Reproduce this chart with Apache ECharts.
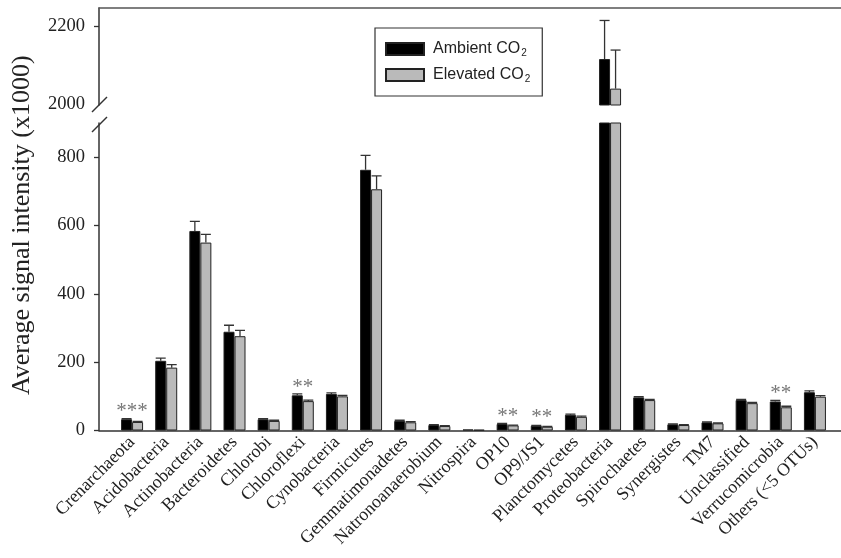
<!DOCTYPE html>
<html>
<head>
<meta charset="utf-8">
<script src="https://cdn.jsdelivr.net/npm/echarts@6/dist/echarts.min.js"></script>
<style>
  html, body { margin: 0; padding: 0; background: #fff; }
  #chart { width: 841px; height: 558px; }
</style>
</head>
<body>
<div id="chart"></div>
<script>
const categories = ['Crenarchaeota', 'Acidobacteria', 'Actinobacteria', 'Bacteroidetes', 'Chlorobi',
  'Chloroflexi', 'Cynobacteria', 'Firmicutes', 'Gemmatimonadetes', 'Natronoanaerobium', 'Nitrospira',
  'OP10', 'OP9/JS1', 'Planctomycetes', 'Proteobacteria', 'Spirochaetes', 'Synergistes', 'TM7',
  'Unclassified', 'Verrucomicrobia', 'Others (<5 OTUs)'];
const ambient  = [33, 204, 584, 289, 33, 103, 107, 763, 28, 16, 3, 19, 14, 46, 2115, 97, 18, 24, 89, 85, 112];
const elevated = [25, 184, 550, 276, 28, 86, 100, 706, 24, 13, 2, 15, 11, 40, 2039, 89, 16, 21, 80, 68, 99];
const ambientErr  = [2, 8, 28, 19, 2, 4, 3, 42, 2, 1, 0, 2, 1, 2, 99, 2, 1, 1, 2, 3, 4];
const elevatedErr = [2, 9, 24, 17, 2, 3, 3, 39, 2, 1, 0, 1, 1, 2, 99, 2, 1, 1, 2, 3, 3];
const signif = ['***', '', '', '', '', '**', '', '', '', '', '', '**', '**', '', '', '', '', '', '', '**', ''];
const lowerTicks = [0, 200, 400, 600, 800];
const upperTicks = [2000, 2200];

const serif = '"Liberation Serif", "Times New Roman", serif';
const sans = '"Liberation Sans", Arial, sans-serif';
const BAR_W = 11;

const chart = echarts.init(document.getElementById('chart'));

function errSeries(name, vals, errs, shift, gi) {
  return {
    name: name,
    type: 'custom',
    xAxisIndex: gi,
    yAxisIndex: gi,
    clip: true,
    silent: true,
    z: 3,
    data: vals.map((v, i) => [i, v, errs[i]]),
    renderItem: function (params, api) {
      const i = api.value(0), v = api.value(1), e = api.value(2);
      if (!e) return;
      const base = api.coord([i, v]);
      const top = api.coord([i, v + e]);
      const x = base[0] + shift;
      return {
        type: 'group',
        children: [
          { type: 'line', shape: { x1: x, y1: base[1], x2: x, y2: top[1] },
            style: { stroke: '#333', lineWidth: 1.3 } },
          { type: 'line', shape: { x1: x - 5, y1: top[1], x2: x + 5, y2: top[1] },
            style: { stroke: '#333', lineWidth: 1.3 } }
        ]
      };
    }
  };
}

function barSeries(name, vals, color, gi) {
  return {
    name: name,
    type: 'bar',
    xAxisIndex: gi,
    yAxisIndex: gi,
    barWidth: BAR_W,
    barGap: '0%',
    data: vals,
    itemStyle: { color: color, borderColor: '#222', borderWidth: 1 },
    emphasis: { disabled: true }
  };
}

const yLabel = { fontFamily: serif, fontSize: 18.5, color: '#222', margin: 14, formatter: v => String(v) };
const axisLineStyle = { show: true, onZero: false, lineStyle: { color: '#333', width: 1.5 } };

const option = {
  animation: false,
  backgroundColor: '#fff',
  legend: {
    data: ['Ambient CO2', 'Elevated CO2'],
    orient: 'vertical',
    left: 375,
    top: 28,
    icon: 'rect',
    itemWidth: 38,
    itemHeight: 12,
    itemGap: 8,
    padding: [12, 12, 12, 10],
    borderColor: '#333',
    borderWidth: 1.2,
    formatter: name => '{n|' + name.slice(0, -1) + '}{s|2}',
    textStyle: {
      rich: {
        n: { fontFamily: sans, fontSize: 16, color: '#222', padding: [0, 0, 0, 4], lineHeight: 18 },
        s: { fontFamily: sans, fontSize: 10, color: '#222', padding: [8, 0, 0, 1], lineHeight: 18 }
      }
    }
  },
  grid: [
    { left: 115, right: 9, top: 123, bottom: 127.5 },
    { left: 115, right: 9, top: 8, height: 97 },
    { left: 99, right: -4, top: 8, bottom: 127.5 }
  ],
  xAxis: [
    {
      type: 'category', gridIndex: 0, data: categories,
      axisLine: { show: false },
      axisTick: { alignWithLabel: true, length: 5, lineStyle: { color: '#333', width: 1.3 } },
      axisLabel: { interval: 0, rotate: 45, fontFamily: serif, fontSize: 18, color: '#222', margin: 9 }
    },
    { type: 'category', gridIndex: 1, data: categories, show: false },
    {
      type: 'value', gridIndex: 2, min: 0, max: 1, position: 'bottom',
      axisLine: axisLineStyle,
      axisTick: { show: false }, axisLabel: { show: false }, splitLine: { show: false }
    },
    {
      type: 'value', gridIndex: 2, position: 'top', min: 0, max: 1,
      axisLine: { show: true, onZero: false, lineStyle: { color: '#555', width: 1.5 } },
      axisTick: { show: false }, axisLabel: { show: false }, splitLine: { show: false }
    }
  ],
  yAxis: [
    {
      type: 'value', gridIndex: 0, min: 0, max: 900, offset: 16,
      axisLine: axisLineStyle,
      axisTick: { show: true, length: 5, customValues: lowerTicks, lineStyle: { color: '#333', width: 1.3 } },
      axisLabel: Object.assign({ customValues: lowerTicks }, yLabel),
      splitLine: { show: false }
    },
    {
      type: 'value', gridIndex: 1, min: 1997, max: 2246, offset: 16,
      axisLine: axisLineStyle,
      axisTick: { show: true, length: 5, customValues: [2200], lineStyle: { color: '#333', width: 1.3 } },
      axisLabel: Object.assign({ customValues: upperTicks }, yLabel),
      splitLine: { show: false }
    },
    {
      type: 'value', gridIndex: 2, min: 0, max: 1,
      axisLine: { show: false }, axisTick: { show: false }, axisLabel: { show: false }, splitLine: { show: false },
      name: 'Average signal intensity (x1000)',
      nameLocation: 'middle',
      nameGap: 64,
      nameTextStyle: { fontFamily: serif, fontSize: 26, color: '#222', padding: [0, 12, 0, 0] }
    }
  ],
  graphic: [
    { type: 'line', shape: { x1: 92, y1: 112, x2: 107, y2: 97 }, style: { stroke: '#333', lineWidth: 1.5 } },
    { type: 'line', shape: { x1: 92, y1: 132, x2: 107, y2: 117 }, style: { stroke: '#333', lineWidth: 1.5 } }
  ],
  series: [
    barSeries('Ambient CO2', ambient, '#000', 0),
    barSeries('Elevated CO2', elevated, '#bababa', 0),
    barSeries('Ambient CO2', ambient, '#000', 1),
    barSeries('Elevated CO2', elevated, '#bababa', 1),
    errSeries('errA0', ambient, ambientErr, -BAR_W / 2, 0),
    errSeries('errE0', elevated, elevatedErr, BAR_W / 2, 0),
    errSeries('errA1', ambient, ambientErr, -BAR_W / 2, 1),
    errSeries('errE1', elevated, elevatedErr, BAR_W / 2, 1),
    {
      name: 'signif',
      type: 'custom',
      xAxisIndex: 0,
      yAxisIndex: 0,
      silent: true,
      z: 4,
      data: signif.map((s, i) => [i, ambient[i], s]),
      renderItem: function (params, api) {
        const s = signif[params.dataIndex];
        if (!s) return;
        const p = api.coord([api.value(0), api.value(1)]);
        return {
          type: 'text',
          x: p[0], y: p[1] - 8,
          style: {
            text: s, fill: '#777', fontFamily: serif, fontSize: 21,
            textAlign: 'center', textVerticalAlign: 'middle'
          }
        };
      }
    }
  ]
};

chart.setOption(option);
</script>
</body>
</html>
